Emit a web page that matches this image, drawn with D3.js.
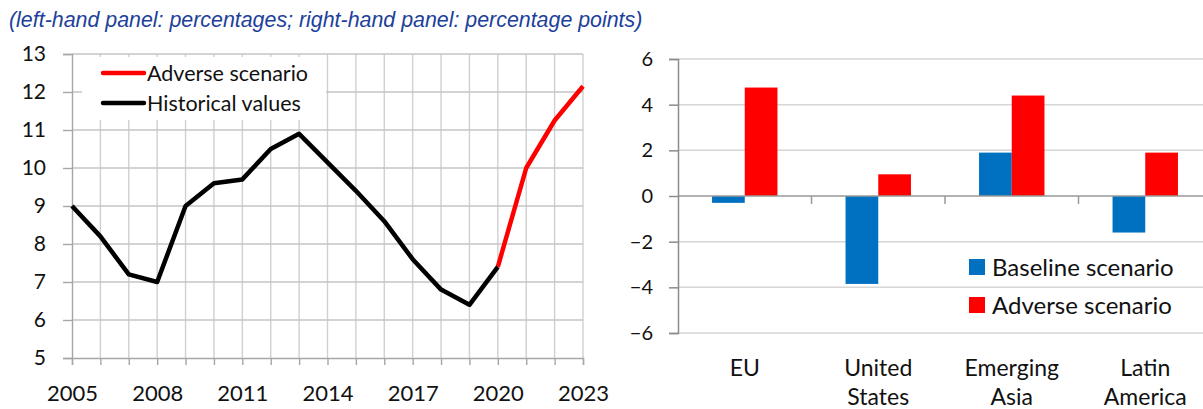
<!DOCTYPE html>
<html>
<head>
<meta charset="utf-8">
<script src="https://cdn.jsdelivr.net/npm/d3@7"></script>
<style>
  body { margin: 0; background: #fff; }
  svg { display: block; }
  text { font-family: Lato, "Open Sans", sans-serif; fill: #111; }
</style>
</head>
<body>
<script>
// left panel: years and values
var years = [2005, 2006, 2007, 2008, 2009, 2010, 2011, 2012, 2013, 2014,
             2015, 2016, 2017, 2018, 2019, 2020, 2021, 2022, 2023];
var historical = [9.0, 8.2, 7.2, 7.0, 9.0, 9.6, 9.7, 10.5, 10.9, 10.15,
                  9.4, 8.6, 7.6, 6.8, 6.4, 7.4];
var adverseYears = [2020, 2021, 2022, 2023];
var adverseLine = [7.4, 10.0, 11.25, 12.15];
var yearLabels = [2005, 2008, 2011, 2014, 2017, 2020, 2023];

// right panel: regions and scenario deviations
var regions = ["EU", "United States", "Emerging Asia", "Latin America"];
var regionLines = [["EU"], ["United", "States"], ["Emerging", "Asia"], ["Latin", "America"]];
var series = ["Baseline scenario", "Adverse scenario"];
var baseline = [-0.3, -3.85, 1.9, -1.6];
var adverse = [4.75, 0.95, 4.4, 1.9];
var colors = ["#0070C0", "#FF0000"];

var W = 1203, H = 409;
var svg = d3.select("body").append("svg").attr("width", W).attr("height", H);

// title
var title = svg.append("text")
  .attr("x", 9).attr("y", 27)
  .style("font-family", "'Liberation Sans', Arial, sans-serif")
  .style("font-style", "italic")
  .style("font-size", "18px")
  .style("fill", "#203F9A")
  .text("(left-hand panel: percentages; right-hand panel: percentage points)");
var tw = title.node().getComputedTextLength();
title.style("font-size", (18 * 634 / tw) + "px");

// ---------- left panel ----------
var x = d3.scaleLinear().domain([2005, 2023]).range([72, 583]);
var y = d3.scaleLinear().domain([5, 13]).range([358, 54]);

var left = svg.append("g");

// vertical grid
left.append("g")
  .selectAll("line")
  .data(years.slice(1))
  .enter().append("line")
  .attr("x1", d => x(d)).attr("x2", d => x(d))
  .attr("y1", y(13)).attr("y2", y(5))
  .attr("stroke", "#d0d0d0").attr("stroke-width", 1.4);

// horizontal grid
left.append("g")
  .selectAll("line")
  .data(d3.range(6, 14))
  .enter().append("line")
  .attr("x1", x(2005)).attr("x2", x(2023))
  .attr("y1", d => y(d)).attr("y2", d => y(d))
  .attr("stroke", "#c4c4c4").attr("stroke-width", 1.4);

// y axis
var yAxis = left.append("g")
  .attr("transform", "translate(" + x(2005) + ",0)")
  .call(d3.axisLeft(y).tickValues(d3.range(5, 14)).tickSize(9).tickPadding(17));
yAxis.selectAll("text").style("font-size", "21px").style("font-family", "Lato, sans-serif");

// x axis
var xAxis = left.append("g")
  .attr("transform", "translate(0," + y(5) + ")")
  .call(d3.axisBottom(x).tickValues(years).tickSize(7).tickPadding(20)
    .tickFormat(d => yearLabels.indexOf(d) >= 0 ? d : ""));
xAxis.selectAll("text").style("font-size", "22px").style("font-family", "Lato, sans-serif");

left.selectAll(".domain").attr("stroke", "#a6a6a6").attr("stroke-width", 1.4);
left.selectAll(".tick line").attr("stroke", "#a6a6a6").attr("stroke-width", 1.4);

// legend box (covers the grid)
left.append("rect")
  .attr("x", 82).attr("y", 57).attr("width", 244).attr("height", 63)
  .attr("fill", "#fff");

var line = d3.line().x(d => x(d[0])).y(d => y(d[1]));

left.append("path")
  .datum(adverseYears.map((d, i) => [d, adverseLine[i]]))
  .attr("d", line)
  .attr("fill", "none").attr("stroke", "#FF0000").attr("stroke-width", 4.5)
  .attr("stroke-linejoin", "round");

left.append("path")
  .datum(historical.map((d, i) => [years[i], d]))
  .attr("d", line)
  .attr("fill", "none").attr("stroke", "#000").attr("stroke-width", 4.5)
  .attr("stroke-linejoin", "round");

var lleg = left.append("g");
[["Adverse scenario", "#FF0000", 73], ["Historical values", "#000", 103]].forEach(function(d) {
  lleg.append("line")
    .attr("x1", 103).attr("x2", 144).attr("y1", d[2]).attr("y2", d[2])
    .attr("stroke", d[1]).attr("stroke-width", 4.5).attr("stroke-linecap", "round");
  lleg.append("text")
    .attr("x", 147).attr("y", d[2]).attr("dy", "0.36em")
    .style("font-size", "21.5px")
    .text(d[0]);
});

// ---------- right panel ----------
var bw = 133.5;
var x0 = d3.scaleBand().domain(regions).range([678, 678 + 4 * bw]);
var x1 = d3.scaleBand().domain(series).range([bw * 0.255, bw * 0.745]);
var yr = d3.scaleLinear().domain([-6, 6]).range([333, 59]);

var right = svg.append("g");

right.append("g")
  .selectAll("line")
  .data([-6, -4, -2, 2, 4, 6])
  .enter().append("line")
  .attr("x1", 678).attr("x2", W)
  .attr("y1", d => yr(d)).attr("y2", d => yr(d))
  .attr("stroke", "#d6d6d6").attr("stroke-width", 1.5);

var groups = right.append("g")
  .selectAll("g")
  .data(regions)
  .enter().append("g")
  .attr("transform", d => "translate(" + x0(d) + ",0)");

groups.selectAll("rect")
  .data((d, i) => [baseline[i], adverse[i]].map((v, j) => ({ s: series[j], v: v, c: colors[j] })))
  .enter().append("rect")
  .attr("x", d => x1(d.s))
  .attr("width", x1.bandwidth())
  .attr("y", d => yr(Math.max(0, d.v)))
  .attr("height", d => Math.abs(yr(d.v) - yr(0)))
  .attr("fill", d => d.c);

// zero line with category ticks
right.append("line")
  .attr("x1", 678).attr("x2", W)
  .attr("y1", yr(0)).attr("y2", yr(0))
  .attr("stroke", "#999").attr("stroke-width", 1.5);
right.append("g")
  .selectAll("line")
  .data(regions.slice(1))
  .enter().append("line")
  .attr("x1", d => x0(d)).attr("x2", d => x0(d))
  .attr("y1", yr(0)).attr("y2", yr(0) + 8)
  .attr("stroke", "#999").attr("stroke-width", 1.5);

var yrAxis = right.append("g")
  .attr("transform", "translate(678,0)")
  .call(d3.axisLeft(yr).tickValues(d3.range(-6, 7, 2)).tickSize(9).tickPadding(16));
yrAxis.selectAll("text").style("font-size", "20px").style("font-family", "Lato, sans-serif");
yrAxis.select(".domain").attr("stroke", "#8c8c8c").attr("stroke-width", 1.5);
yrAxis.selectAll(".tick line").attr("stroke", "#8c8c8c").attr("stroke-width", 1.5);

// category labels
right.append("g")
  .selectAll("text")
  .data(regions)
  .enter().append("text")
  .attr("x", d => x0(d) + x0.bandwidth() / 2)
  .attr("y", 376)
  .attr("text-anchor", "middle")
  .style("font-size", "23px")
  .each(function(d, i) {
    var t = d3.select(this);
    regionLines[i].forEach(function(s, k) {
      t.append("tspan")
        .attr("x", x0(d) + x0.bandwidth() / 2)
        .attr("dy", k === 0 ? 0 : 29)
        .text(s);
    });
  });

// legend
var rleg = right.append("g");
series.forEach(function(s, i) {
  var cy = 267 + i * 38;
  rleg.append("rect")
    .attr("x", 969).attr("y", cy - 8).attr("width", 16).attr("height", 16)
    .attr("fill", colors[i]);
  rleg.append("text")
    .attr("x", 992).attr("y", cy).attr("dy", "0.36em")
    .style("font-size", "24px")
    .text(s);
});
</script>
</body>
</html>
